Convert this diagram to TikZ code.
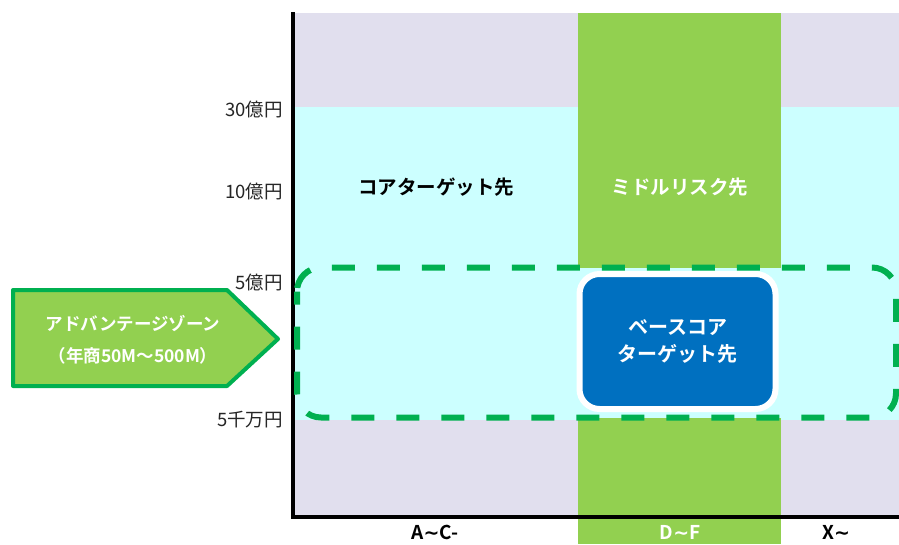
\documentclass[tikz,border=0pt]{standalone}
\usepackage{fontspec}
\setmainfont{Noto Sans CJK JP}[BoldFont={Noto Sans CJK JP Bold}]
\newfontfamily\dvfont{DejaVu Sans}
\newcommand{\wv}{{\dvfont\textasciitilde}}
\begin{document}
\begin{tikzpicture}[x=1pt,y=-1pt,
  ylab/.style={anchor=east,inner sep=0pt,font=\fontsize{18.5}{20}\selectfont,text=black!85},
  blab/.style={inner sep=0pt,font=\bfseries\fontsize{19.5}{22}\selectfont},
  xlab/.style={inner sep=0pt,font=\bfseries\fontsize{19}{21}\selectfont}]
\definecolor{lav}{HTML}{E1DFEE}
\definecolor{cyanbg}{HTML}{CCFFFF}
\definecolor{lgreen}{HTML}{92D050}
\definecolor{dgreen}{HTML}{00B050}
\definecolor{bluebox}{HTML}{0070C0}
\useasboundingbox (0,0) rectangle (899,544);
\fill[white] (0,0) rectangle (899,544);
% background bands
\fill[lav] (293,13) rectangle (899,517);
\fill[cyanbg] (293,107) rectangle (899,420);
\fill[lgreen] (578,13) rectangle (781,268);
\fill[lgreen] (578,418) rectangle (781,544);
% axes
\coordinate (otop) at (293,12);
\coordinate (orig) at (293,517);
\coordinate (xend) at (899,517);
\draw[line width=4pt] (otop) -- (orig);
\draw[line width=3.5pt] (291,517) -- (xend);
% dashed zone
\draw[dgreen,line width=6pt,dash pattern=on 23pt off 22pt,dash phase=10pt,rounded corners=24pt]
  (297,267.5) rectangle (896,417.5);
% blue box
\node[draw=white,line width=6pt,fill=bluebox,rounded corners=20pt,minimum width=196pt,minimum height=135pt,
  inner sep=0pt,text=white,align=center,font=\bfseries\fontsize{20}{27}\selectfont] (base) at (677.5,341.5)
  {ベースコア\\ターゲット先};
% labels
\node[ylab] (l30) at (283,110) {30億円};
\node[ylab] (l10) at (283,192) {10億円};
\node[ylab] (l5) at (283,283) {5億円};
\node[ylab] (l05) at (283,420) {5千万円};
\node[blab,text=black] (core) at (436,187) {コアターゲット先};
\node[blab,text=white] (mid) at (680,187) {ミドルリスク先};
\node[xlab,text=black] (xa) at (435,532) {A\wv C-};
\node[xlab,text=white] (xd) at (680,532) {D\wv F};
\node[xlab,text=black] (xx) at (836,532) {X\wv};
% arrow
\draw[dgreen,fill=lgreen,line width=4pt,line join=round]
  (13,290) -- (227,290) -- (278,339) -- (227,386) -- (13,386) -- cycle;
\node[inner sep=0pt,text=white,align=center,font=\bfseries\fontsize{17.5}{32}\selectfont] (adv) at (133,340)
  {アドバンテージゾーン\\（年商50M～500M）};
\end{tikzpicture}
\end{document}
